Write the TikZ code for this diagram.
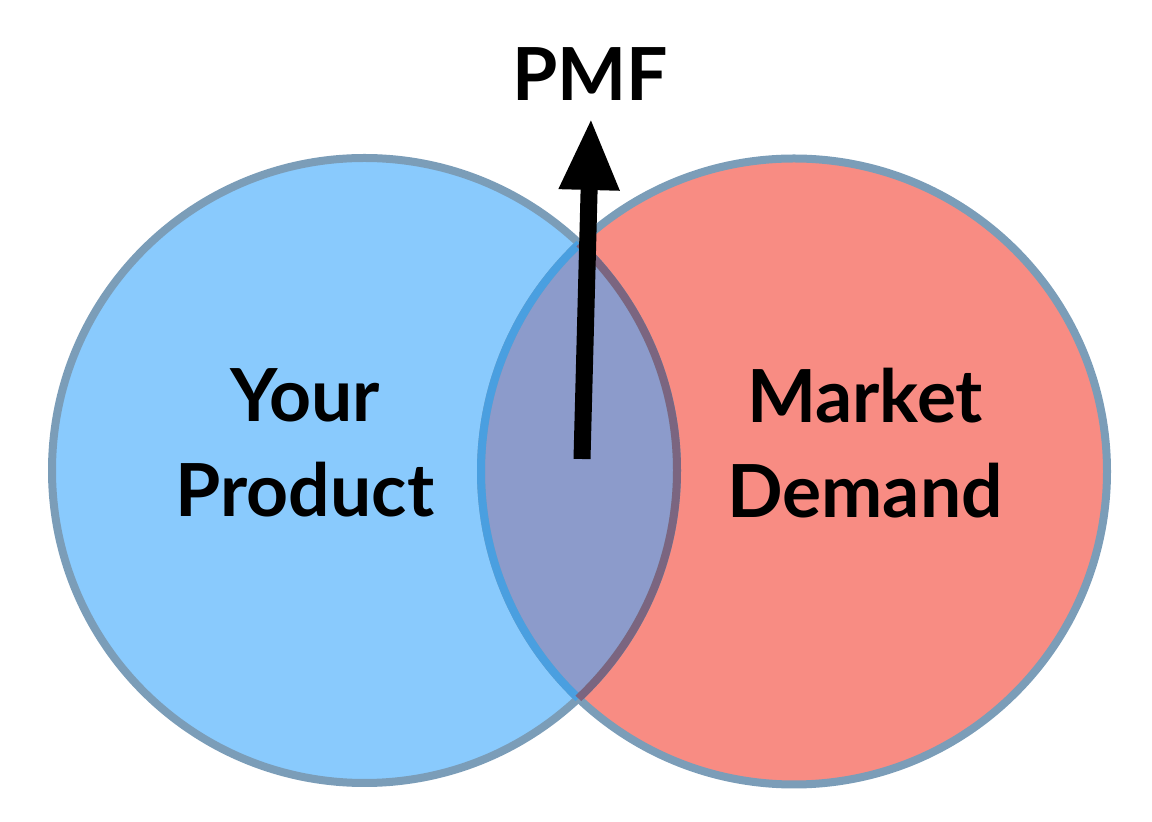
\documentclass[tikz,border=0pt]{standalone}
\usepackage{fontspec}
\setmainfont{Lato}
\usetikzlibrary{arrows.meta}
\definecolor{prodblue}{HTML}{89CAFD}
\definecolor{demred}{HTML}{F88C83}
\definecolor{overlap}{HTML}{8C9BCB}
\definecolor{ringgray}{HTML}{7B9DB8}
\definecolor{ringblue}{HTML}{4A9FE0}
\definecolor{ringmauve}{HTML}{7B6580}
\tikzset{
  ring/.style={line width=4pt},
  label/.style={font=\fontsize{36.6}{47.5}\selectfont\bfseries, align=center, inner sep=0pt, text=black},
  bigarrow/.style={line width=8.5pt, -{Triangle[length=36pt,width=28pt]}}
}
\begin{document}
\begin{tikzpicture}[x=0.5pt,y=-0.5pt]
\useasboundingbox (0,0) rectangle (1152,822);
\coordinate (cL) at (364.5,470.5);
\coordinate (cR) at (794,471.5);
% fills
\fill[demred] (cR) circle[radius=156.5pt];
\fill[prodblue] (cL) circle[radius=156.25pt];
\begin{scope}
  \clip (cL) circle[radius=156.25pt];
  \fill[overlap] (cR) circle[radius=156.5pt];
\end{scope}
% outer rings
\draw[ring, ringgray] (cL) circle[radius=156.25pt];
\draw[ring, ringgray] (cR) circle[radius=156.5pt];
% ring parts inside the other circle
\begin{scope}
  \clip (cL) circle[radius=156.25pt];
  \draw[ring, ringblue] (cR) circle[radius=156.5pt];
\end{scope}
\begin{scope}
  \clip (cR) circle[radius=156.5pt];
  \draw[ring, ringmauve] (cL) circle[radius=156.25pt];
\end{scope}
% labels
\node[label] (prod) at (305,443) {Your\\Product};
\node[label] (dem) at (865,443) {Market\\Demand};
\node[label] (pmf) at (590,74) {PMF};
% arrow
\coordinate (astart) at (582,459);
\coordinate (atip) at (591,118);
\draw[bigarrow] (astart) -- (atip);
\end{tikzpicture}
\end{document}
